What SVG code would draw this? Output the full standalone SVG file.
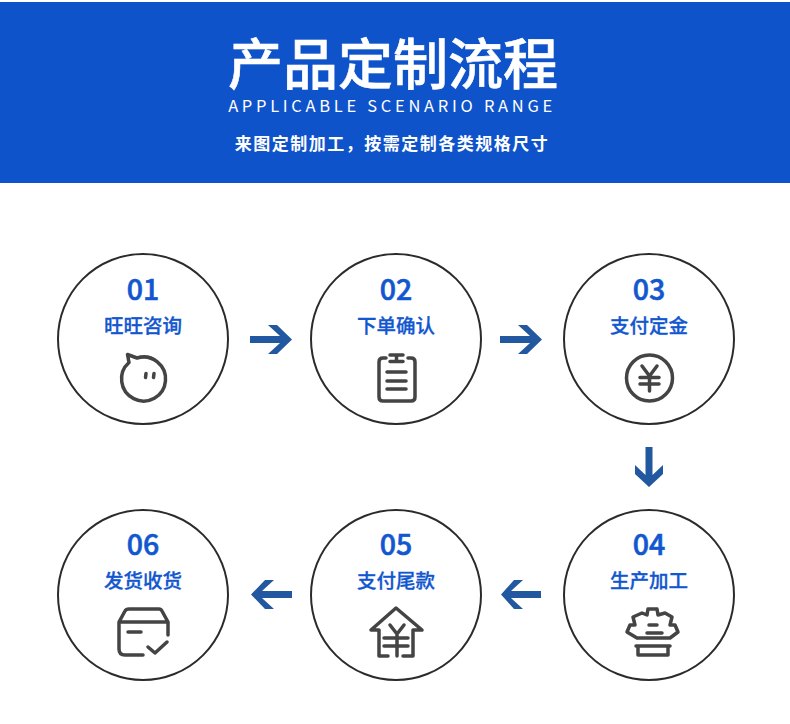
<svg xmlns="http://www.w3.org/2000/svg" width="790" height="724" viewBox="0 0 790 724">
<style>
.cjk{font-family:"Noto Sans CJK SC","Noto Sans",sans-serif}
.ring{fill:#fff;stroke:#2b2b2b;stroke-width:2}
.num{font-family:"Noto Sans CJK SC","Noto Sans",sans-serif;font-size:28.500px;font-weight:500;fill:#1257cf;stroke:#1257cf;stroke-width:.6;text-anchor:middle}
.lab{font-family:"Noto Sans CJK SC",sans-serif;font-size:19.500px;font-weight:500;fill:#1257cf;stroke:#1257cf;stroke-width:.3;text-anchor:middle}
.ic{fill:none;stroke:#444;stroke-width:3.500;stroke-linecap:round;stroke-linejoin:round}
.arr{fill:#22589f}
</style>
<rect width="790" height="724" fill="#fff"/>
<rect id="banner" x="0" y="2" width="790" height="181" fill="#0f53cb"/>
<g id="header" fill="#fff" text-anchor="middle">
<text class="cjk" x="393" y="84" font-size="55" font-weight="500" stroke="#fff" stroke-width=".6">产品定制流程</text>
<text class="cjk" x="392" y="112" font-size="16.500" font-weight="400" letter-spacing="3.700">APPLICABLE SCENARIO RANGE</text>
<text class="cjk" x="392" y="150" font-size="17" font-weight="700" letter-spacing="1.500">来图定制加工，按需定制各类规格尺寸</text>
</g>
<g id="connectors" class="arr">
<path id="a1" d="M250 336V343H280L268 354H277L292 339.500L277 325H268L280 336Z"/>
<path id="a2" d="M500 336V343H530L518 354H527L542 339.500L527 325H518L530 336Z"/>
<path id="a3" d="M645.500 447H652.500V475L663 465V474L649 487L635 474V465L645.500 475Z"/>
<path id="a4" d="M541 591V598H511L523 609H514L501 594.500L514 580H523L511 591Z"/>
<path id="a5" d="M292 591V598H262L274 609H265L251 594.500L265 580H274L262 591Z"/>
</g>
<g id="node-01">
<circle class="ring" cx="143" cy="339" r="85"/>
<text class="num" x="143" y="299.500">01</text>
<text class="lab" x="143" y="333">旺旺咨询</text>
<path class="ic" d="M127.500 354.500L137 358A22 22 0 1 1 129 362.500Z"/>
<path class="ic" stroke-width="2.500" d="M146 373.500L145.500 377.500M154 373.500L153.500 377.500"/>
</g>
<g id="node-02">
<circle class="ring" cx="396" cy="339" r="85"/>
<text class="num" x="396" y="299.500">02</text>
<text class="lab" x="396" y="333">下单确认</text>
<path class="ic" d="M386 358H383Q379 358 379 362V397Q379 401 383 401H411Q415 401 415 397V362Q415 358 411 358H408"/>
<path class="ic" d="M390 355H403M396.500 355V361M390 361.500H403M387 372H406M387 381H406M387 389H406"/>
</g>
<g id="node-03">
<circle class="ring" cx="649" cy="339" r="85"/>
<text class="num" x="649" y="299.500">03</text>
<text class="lab" x="649" y="333">支付定金</text>
<circle class="ic" cx="649.500" cy="378" r="23"/>
<path class="ic" d="M642 366L649.500 376L657 366M640 377.500H659M640 384H659M649.500 376V391"/>
</g>
<g id="node-04">
<circle class="ring" cx="649" cy="595" r="85"/>
<text class="num" x="649" y="555">04</text>
<text class="lab" x="649" y="588">生产加工</text>
<path class="ic" d="M637 638L627 632L630 625H635L633 617L642 613L647 615L648 609H657L658 615L665 613L672 617L670 625H675L678 632L670 638Z"/>
<path class="ic" d="M649 625H657M647 633H662M638 646V655H668V646M636 646H670"/>
</g>
<g id="node-05">
<circle class="ring" cx="396" cy="595" r="85"/>
<text class="num" x="396" y="555">05</text>
<text class="lab" x="396" y="588">支付尾款</text>
<path class="ic" d="M388 656H379V630H371L396 608L422 630H413V656H403"/>
<path class="ic" d="M390 625L397 634L404 625M384 638H408M384 646H408M397 634V656"/>
</g>
<g id="node-06">
<circle class="ring" cx="143" cy="595" r="85"/>
<text class="num" x="143" y="555">06</text>
<text class="lab" x="143" y="588">发货收货</text>
<path class="ic" d="M119 622L125 611Q126 609 129 609H159Q161 609 162 611L168 622V635M119 622V649Q119 655 125 655H143M119 622H168M128 632H141M148 647L155 653L167 642"/>
</g>
</svg>
